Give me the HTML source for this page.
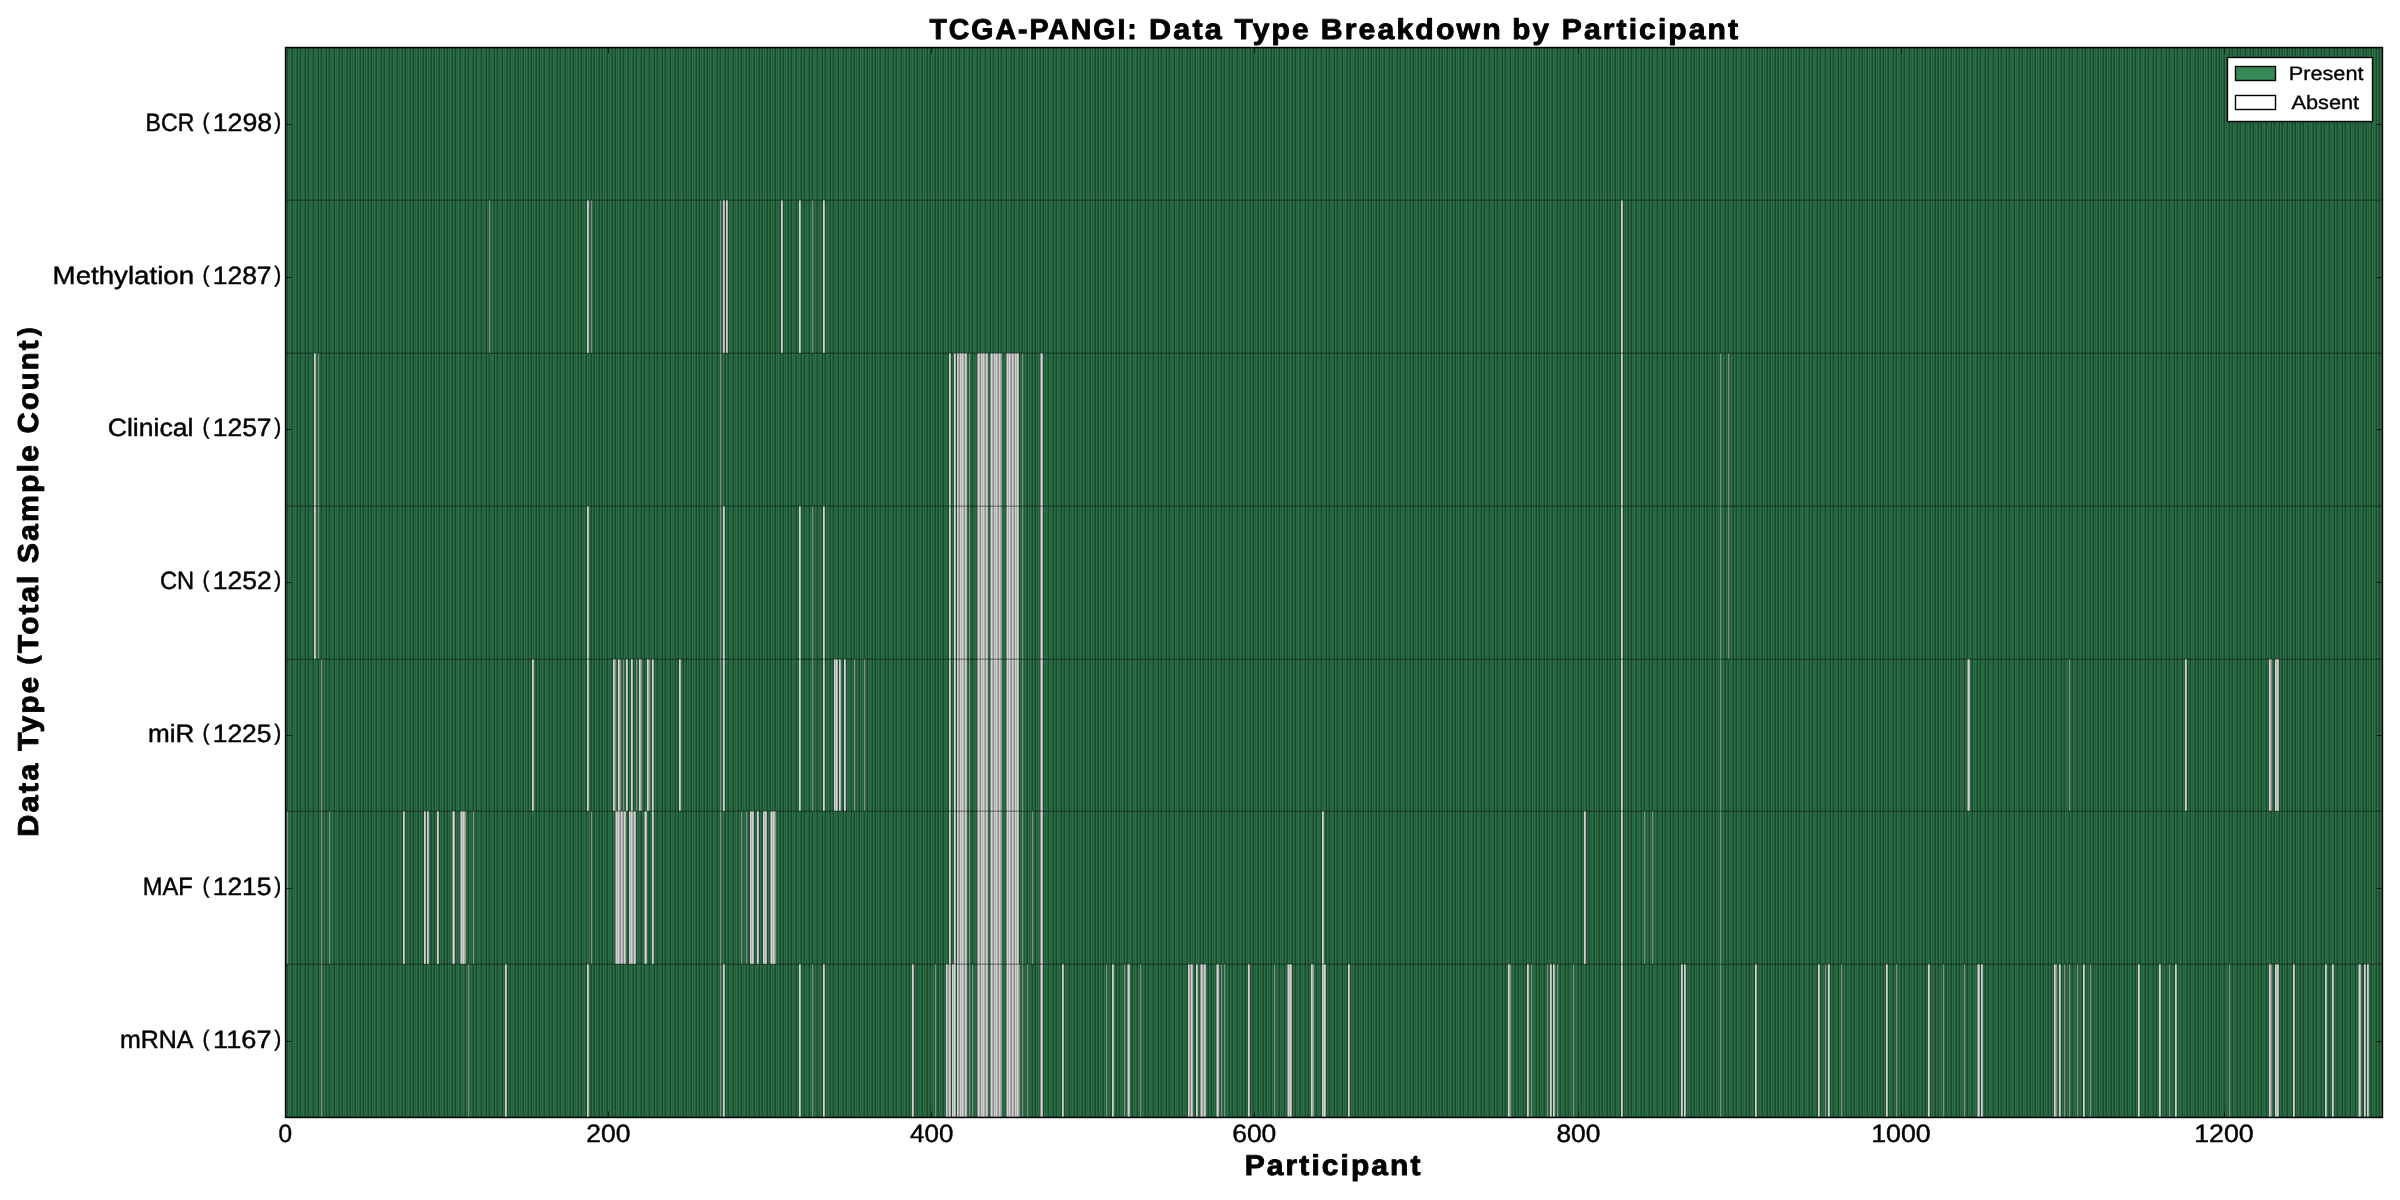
<!DOCTYPE html><html><head><meta charset="utf-8"><title>TCGA-PANGI</title><style>html,body{margin:0;padding:0;background:#fff;width:2400px;height:1200px;overflow:hidden}svg{display:block}text{font-family:"Liberation Sans",sans-serif;fill:#000;stroke:#000;stroke-linejoin:round;text-rendering:geometricPrecision}</style></head><body>
<svg width="2400" height="1200" viewBox="0 0 2400 1200">
<rect width="2400" height="1200" fill="#fff"/>
<g shape-rendering="crispEdges">
<rect x="286" y="48" width="2096" height="1069" fill="#2b7147"/>
<path d="M286.5 48v1069M289.5 48v1069M291.5 48v1069M294.5 48v1069M296.5 48v1069M299.5 48v1069M302.5 48v1069M304.5 48v1069M307.5 48v1069M310.5 48v1069M312.5 48v1069M315.5 48v1069M317.5 48v1069M320.5 48v1069M323.5 48v1069M325.5 48v1069M328.5 48v1069M331.5 48v1069M333.5 48v1069M336.5 48v1069M338.5 48v1069M341.5 48v1069M344.5 48v1069M346.5 48v1069M349.5 48v1069M352.5 48v1069M354.5 48v1069M357.5 48v1069M359.5 48v1069M362.5 48v1069M365.5 48v1069M367.5 48v1069M370.5 48v1069M373.5 48v1069M375.5 48v1069M378.5 48v1069M380.5 48v1069M383.5 48v1069M386.5 48v1069M388.5 48v1069M391.5 48v1069M394.5 48v1069M396.5 48v1069M399.5 48v1069M401.5 48v1069M404.5 48v1069M407.5 48v1069M409.5 48v1069M412.5 48v1069M415.5 48v1069M417.5 48v1069M420.5 48v1069M422.5 48v1069M425.5 48v1069M428.5 48v1069M430.5 48v1069M433.5 48v1069M436.5 48v1069M438.5 48v1069M441.5 48v1069M443.5 48v1069M446.5 48v1069M449.5 48v1069M451.5 48v1069M454.5 48v1069M457.5 48v1069M459.5 48v1069M462.5 48v1069M464.5 48v1069M467.5 48v1069M470.5 48v1069M472.5 48v1069M475.5 48v1069M478.5 48v1069M480.5 48v1069M483.5 48v1069M485.5 48v1069M488.5 48v1069M491.5 48v1069M493.5 48v1069M496.5 48v1069M499.5 48v1069M501.5 48v1069M504.5 48v1069M506.5 48v1069M509.5 48v1069M512.5 48v1069M514.5 48v1069M517.5 48v1069M520.5 48v1069M522.5 48v1069M525.5 48v1069M527.5 48v1069M530.5 48v1069M533.5 48v1069M535.5 48v1069M538.5 48v1069M541.5 48v1069M543.5 48v1069M546.5 48v1069M548.5 48v1069M551.5 48v1069M554.5 48v1069M556.5 48v1069M559.5 48v1069M562.5 48v1069M564.5 48v1069M567.5 48v1069M569.5 48v1069M572.5 48v1069M575.5 48v1069M577.5 48v1069M580.5 48v1069M583.5 48v1069M585.5 48v1069M588.5 48v1069M590.5 48v1069M593.5 48v1069M596.5 48v1069M598.5 48v1069M601.5 48v1069M604.5 48v1069M606.5 48v1069M609.5 48v1069M611.5 48v1069M614.5 48v1069M617.5 48v1069M619.5 48v1069M622.5 48v1069M625.5 48v1069M627.5 48v1069M630.5 48v1069M632.5 48v1069M635.5 48v1069M638.5 48v1069M640.5 48v1069M643.5 48v1069M646.5 48v1069M648.5 48v1069M651.5 48v1069M653.5 48v1069M656.5 48v1069M659.5 48v1069M661.5 48v1069M664.5 48v1069M667.5 48v1069M669.5 48v1069M672.5 48v1069M674.5 48v1069M677.5 48v1069M680.5 48v1069M682.5 48v1069M685.5 48v1069M688.5 48v1069M690.5 48v1069M693.5 48v1069M695.5 48v1069M698.5 48v1069M701.5 48v1069M703.5 48v1069M706.5 48v1069M709.5 48v1069M711.5 48v1069M714.5 48v1069M716.5 48v1069M719.5 48v1069M722.5 48v1069M724.5 48v1069M727.5 48v1069M730.5 48v1069M732.5 48v1069M735.5 48v1069M737.5 48v1069M740.5 48v1069M743.5 48v1069M745.5 48v1069M748.5 48v1069M751.5 48v1069M753.5 48v1069M756.5 48v1069M758.5 48v1069M761.5 48v1069M764.5 48v1069M766.5 48v1069M769.5 48v1069M772.5 48v1069M774.5 48v1069M777.5 48v1069M779.5 48v1069M782.5 48v1069M785.5 48v1069M787.5 48v1069M790.5 48v1069M793.5 48v1069M795.5 48v1069M798.5 48v1069M800.5 48v1069M803.5 48v1069M806.5 48v1069M808.5 48v1069M811.5 48v1069M814.5 48v1069M816.5 48v1069M819.5 48v1069M821.5 48v1069M824.5 48v1069M827.5 48v1069M829.5 48v1069M832.5 48v1069M835.5 48v1069M837.5 48v1069M840.5 48v1069M842.5 48v1069M845.5 48v1069M848.5 48v1069M850.5 48v1069M853.5 48v1069M856.5 48v1069M858.5 48v1069M861.5 48v1069M863.5 48v1069M866.5 48v1069M869.5 48v1069M871.5 48v1069M874.5 48v1069M877.5 48v1069M879.5 48v1069M882.5 48v1069M884.5 48v1069M887.5 48v1069M890.5 48v1069M892.5 48v1069M895.5 48v1069M898.5 48v1069M900.5 48v1069M903.5 48v1069M905.5 48v1069M908.5 48v1069M911.5 48v1069M913.5 48v1069M916.5 48v1069M919.5 48v1069M921.5 48v1069M924.5 48v1069M926.5 48v1069M929.5 48v1069M932.5 48v1069M934.5 48v1069M937.5 48v1069M940.5 48v1069M942.5 48v1069M945.5 48v1069M947.5 48v1069M950.5 48v1069M953.5 48v1069M955.5 48v1069M958.5 48v1069M961.5 48v1069M963.5 48v1069M966.5 48v1069M968.5 48v1069M971.5 48v1069M974.5 48v1069M976.5 48v1069M979.5 48v1069M982.5 48v1069M984.5 48v1069M987.5 48v1069M989.5 48v1069M992.5 48v1069M995.5 48v1069M997.5 48v1069M1000.5 48v1069M1003.5 48v1069M1005.5 48v1069M1008.5 48v1069M1010.5 48v1069M1013.5 48v1069M1016.5 48v1069M1018.5 48v1069M1021.5 48v1069M1024.5 48v1069M1026.5 48v1069M1029.5 48v1069M1031.5 48v1069M1034.5 48v1069M1037.5 48v1069M1039.5 48v1069M1042.5 48v1069M1045.5 48v1069M1047.5 48v1069M1050.5 48v1069M1052.5 48v1069M1055.5 48v1069M1058.5 48v1069M1060.5 48v1069M1063.5 48v1069M1066.5 48v1069M1068.5 48v1069M1071.5 48v1069M1073.5 48v1069M1076.5 48v1069M1079.5 48v1069M1081.5 48v1069M1084.5 48v1069M1087.5 48v1069M1089.5 48v1069M1092.5 48v1069M1094.5 48v1069M1097.5 48v1069M1100.5 48v1069M1102.5 48v1069M1105.5 48v1069M1108.5 48v1069M1110.5 48v1069M1113.5 48v1069M1115.5 48v1069M1118.5 48v1069M1121.5 48v1069M1123.5 48v1069M1126.5 48v1069M1129.5 48v1069M1131.5 48v1069M1134.5 48v1069M1136.5 48v1069M1139.5 48v1069M1142.5 48v1069M1144.5 48v1069M1147.5 48v1069M1150.5 48v1069M1152.5 48v1069M1155.5 48v1069M1157.5 48v1069M1160.5 48v1069M1163.5 48v1069M1165.5 48v1069M1168.5 48v1069M1171.5 48v1069M1173.5 48v1069M1176.5 48v1069M1178.5 48v1069M1181.5 48v1069M1184.5 48v1069M1186.5 48v1069M1189.5 48v1069M1192.5 48v1069M1194.5 48v1069M1197.5 48v1069M1199.5 48v1069M1202.5 48v1069M1205.5 48v1069M1207.5 48v1069M1210.5 48v1069M1213.5 48v1069M1215.5 48v1069M1218.5 48v1069M1220.5 48v1069M1223.5 48v1069M1226.5 48v1069M1228.5 48v1069M1231.5 48v1069M1234.5 48v1069M1236.5 48v1069M1239.5 48v1069M1241.5 48v1069M1244.5 48v1069M1247.5 48v1069M1249.5 48v1069M1252.5 48v1069M1255.5 48v1069M1257.5 48v1069M1260.5 48v1069M1262.5 48v1069M1265.5 48v1069M1268.5 48v1069M1270.5 48v1069M1273.5 48v1069M1276.5 48v1069M1278.5 48v1069M1281.5 48v1069M1283.5 48v1069M1286.5 48v1069M1289.5 48v1069M1291.5 48v1069M1294.5 48v1069M1297.5 48v1069M1299.5 48v1069M1302.5 48v1069M1304.5 48v1069M1307.5 48v1069M1310.5 48v1069M1312.5 48v1069M1315.5 48v1069M1318.5 48v1069M1320.5 48v1069M1323.5 48v1069M1325.5 48v1069M1328.5 48v1069M1331.5 48v1069M1333.5 48v1069M1336.5 48v1069M1339.5 48v1069M1341.5 48v1069M1344.5 48v1069M1346.5 48v1069M1349.5 48v1069M1352.5 48v1069M1354.5 48v1069M1357.5 48v1069M1360.5 48v1069M1362.5 48v1069M1365.5 48v1069M1367.5 48v1069M1370.5 48v1069M1373.5 48v1069M1375.5 48v1069M1378.5 48v1069M1381.5 48v1069M1383.5 48v1069M1386.5 48v1069M1388.5 48v1069M1391.5 48v1069M1394.5 48v1069M1396.5 48v1069M1399.5 48v1069M1402.5 48v1069M1404.5 48v1069M1407.5 48v1069M1409.5 48v1069M1412.5 48v1069M1415.5 48v1069M1417.5 48v1069M1420.5 48v1069M1423.5 48v1069M1425.5 48v1069M1428.5 48v1069M1430.5 48v1069M1433.5 48v1069M1436.5 48v1069M1438.5 48v1069M1441.5 48v1069M1444.5 48v1069M1446.5 48v1069M1449.5 48v1069M1451.5 48v1069M1454.5 48v1069M1457.5 48v1069M1459.5 48v1069M1462.5 48v1069M1465.5 48v1069M1467.5 48v1069M1470.5 48v1069M1472.5 48v1069M1475.5 48v1069M1478.5 48v1069M1480.5 48v1069M1483.5 48v1069M1486.5 48v1069M1488.5 48v1069M1491.5 48v1069M1493.5 48v1069M1496.5 48v1069M1499.5 48v1069M1501.5 48v1069M1504.5 48v1069M1507.5 48v1069M1509.5 48v1069M1512.5 48v1069M1514.5 48v1069M1517.5 48v1069M1520.5 48v1069M1522.5 48v1069M1525.5 48v1069M1528.5 48v1069M1530.5 48v1069M1533.5 48v1069M1535.5 48v1069M1538.5 48v1069M1541.5 48v1069M1543.5 48v1069M1546.5 48v1069M1549.5 48v1069M1551.5 48v1069M1554.5 48v1069M1556.5 48v1069M1559.5 48v1069M1562.5 48v1069M1564.5 48v1069M1567.5 48v1069M1570.5 48v1069M1572.5 48v1069M1575.5 48v1069M1577.5 48v1069M1580.5 48v1069M1583.5 48v1069M1585.5 48v1069M1588.5 48v1069M1591.5 48v1069M1593.5 48v1069M1596.5 48v1069M1598.5 48v1069M1601.5 48v1069M1604.5 48v1069M1606.5 48v1069M1609.5 48v1069M1612.5 48v1069M1614.5 48v1069M1617.5 48v1069M1619.5 48v1069M1622.5 48v1069M1625.5 48v1069M1627.5 48v1069M1630.5 48v1069M1633.5 48v1069M1635.5 48v1069M1638.5 48v1069M1640.5 48v1069M1643.5 48v1069M1646.5 48v1069M1648.5 48v1069M1651.5 48v1069M1654.5 48v1069M1656.5 48v1069M1659.5 48v1069M1661.5 48v1069M1664.5 48v1069M1667.5 48v1069M1669.5 48v1069M1672.5 48v1069M1675.5 48v1069M1677.5 48v1069M1680.5 48v1069M1682.5 48v1069M1685.5 48v1069M1688.5 48v1069M1690.5 48v1069M1693.5 48v1069M1696.5 48v1069M1698.5 48v1069M1701.5 48v1069M1703.5 48v1069M1706.5 48v1069M1709.5 48v1069M1711.5 48v1069M1714.5 48v1069M1717.5 48v1069M1719.5 48v1069M1722.5 48v1069M1724.5 48v1069M1727.5 48v1069M1730.5 48v1069M1732.5 48v1069M1735.5 48v1069M1738.5 48v1069M1740.5 48v1069M1743.5 48v1069M1745.5 48v1069M1748.5 48v1069M1751.5 48v1069M1753.5 48v1069M1756.5 48v1069M1759.5 48v1069M1761.5 48v1069M1764.5 48v1069M1766.5 48v1069M1769.5 48v1069M1772.5 48v1069M1774.5 48v1069M1777.5 48v1069M1780.5 48v1069M1782.5 48v1069M1785.5 48v1069M1787.5 48v1069M1790.5 48v1069M1793.5 48v1069M1795.5 48v1069M1798.5 48v1069M1801.5 48v1069M1803.5 48v1069M1806.5 48v1069M1808.5 48v1069M1811.5 48v1069M1814.5 48v1069M1816.5 48v1069M1819.5 48v1069M1822.5 48v1069M1824.5 48v1069M1827.5 48v1069M1829.5 48v1069M1832.5 48v1069M1835.5 48v1069M1837.5 48v1069M1840.5 48v1069M1843.5 48v1069M1845.5 48v1069M1848.5 48v1069M1850.5 48v1069M1853.5 48v1069M1856.5 48v1069M1858.5 48v1069M1861.5 48v1069M1864.5 48v1069M1866.5 48v1069M1869.5 48v1069M1871.5 48v1069M1874.5 48v1069M1877.5 48v1069M1879.5 48v1069M1882.5 48v1069M1885.5 48v1069M1887.5 48v1069M1890.5 48v1069M1892.5 48v1069M1895.5 48v1069M1898.5 48v1069M1900.5 48v1069M1903.5 48v1069M1906.5 48v1069M1908.5 48v1069M1911.5 48v1069M1913.5 48v1069M1916.5 48v1069M1919.5 48v1069M1921.5 48v1069M1924.5 48v1069M1927.5 48v1069M1929.5 48v1069M1932.5 48v1069M1934.5 48v1069M1937.5 48v1069M1940.5 48v1069M1942.5 48v1069M1945.5 48v1069M1948.5 48v1069M1950.5 48v1069M1953.5 48v1069M1955.5 48v1069M1958.5 48v1069M1961.5 48v1069M1963.5 48v1069M1966.5 48v1069M1969.5 48v1069M1971.5 48v1069M1974.5 48v1069M1976.5 48v1069M1979.5 48v1069M1982.5 48v1069M1984.5 48v1069M1987.5 48v1069M1990.5 48v1069M1992.5 48v1069M1995.5 48v1069M1997.5 48v1069M2000.5 48v1069M2003.5 48v1069M2005.5 48v1069M2008.5 48v1069M2011.5 48v1069M2013.5 48v1069M2016.5 48v1069M2018.5 48v1069M2021.5 48v1069M2024.5 48v1069M2026.5 48v1069M2029.5 48v1069M2032.5 48v1069M2034.5 48v1069M2037.5 48v1069M2039.5 48v1069M2042.5 48v1069M2045.5 48v1069M2047.5 48v1069M2050.5 48v1069M2053.5 48v1069M2055.5 48v1069M2058.5 48v1069M2060.5 48v1069M2063.5 48v1069M2066.5 48v1069M2068.5 48v1069M2071.5 48v1069M2074.5 48v1069M2076.5 48v1069M2079.5 48v1069M2081.5 48v1069M2084.5 48v1069M2087.5 48v1069M2089.5 48v1069M2092.5 48v1069M2095.5 48v1069M2097.5 48v1069M2100.5 48v1069M2102.5 48v1069M2105.5 48v1069M2108.5 48v1069M2110.5 48v1069M2113.5 48v1069M2116.5 48v1069M2118.5 48v1069M2121.5 48v1069M2123.5 48v1069M2126.5 48v1069M2129.5 48v1069M2131.5 48v1069M2134.5 48v1069M2137.5 48v1069M2139.5 48v1069M2142.5 48v1069M2144.5 48v1069M2147.5 48v1069M2150.5 48v1069M2152.5 48v1069M2155.5 48v1069M2158.5 48v1069M2160.5 48v1069M2163.5 48v1069M2165.5 48v1069M2168.5 48v1069M2171.5 48v1069M2173.5 48v1069M2176.5 48v1069M2179.5 48v1069M2181.5 48v1069M2184.5 48v1069M2186.5 48v1069M2189.5 48v1069M2192.5 48v1069M2194.5 48v1069M2197.5 48v1069M2200.5 48v1069M2202.5 48v1069M2205.5 48v1069M2207.5 48v1069M2210.5 48v1069M2213.5 48v1069M2215.5 48v1069M2218.5 48v1069M2221.5 48v1069M2223.5 48v1069M2226.5 48v1069M2228.5 48v1069M2231.5 48v1069M2234.5 48v1069M2236.5 48v1069M2239.5 48v1069M2242.5 48v1069M2244.5 48v1069M2247.5 48v1069M2249.5 48v1069M2252.5 48v1069M2255.5 48v1069M2257.5 48v1069M2260.5 48v1069M2263.5 48v1069M2265.5 48v1069M2268.5 48v1069M2270.5 48v1069M2273.5 48v1069M2276.5 48v1069M2278.5 48v1069M2281.5 48v1069M2284.5 48v1069M2286.5 48v1069M2289.5 48v1069M2291.5 48v1069M2294.5 48v1069M2297.5 48v1069M2299.5 48v1069M2302.5 48v1069M2305.5 48v1069M2307.5 48v1069M2310.5 48v1069M2312.5 48v1069M2315.5 48v1069M2318.5 48v1069M2320.5 48v1069M2323.5 48v1069M2326.5 48v1069M2328.5 48v1069M2331.5 48v1069M2333.5 48v1069M2336.5 48v1069M2339.5 48v1069M2341.5 48v1069M2344.5 48v1069M2347.5 48v1069M2349.5 48v1069M2352.5 48v1069M2354.5 48v1069M2357.5 48v1069M2360.5 48v1069M2362.5 48v1069M2365.5 48v1069M2368.5 48v1069M2370.5 48v1069M2373.5 48v1069M2375.5 48v1069M2378.5 48v1069M2381.5 48v1069" stroke="#245e3b" stroke-width="1" fill="none"/>
<path d="M287.5 48v1069M292.5 48v1069M297.5 48v1069M300.5 48v1069M305.5 48v1069M308.5 48v1069M313.5 48v1069M318.5 48v1069M321.5 48v1069M326.5 48v1069M329.5 48v1069M334.5 48v1069M339.5 48v1069M342.5 48v1069M347.5 48v1069M350.5 48v1069M355.5 48v1069M360.5 48v1069M363.5 48v1069M368.5 48v1069M371.5 48v1069M376.5 48v1069M381.5 48v1069M384.5 48v1069M389.5 48v1069M392.5 48v1069M397.5 48v1069M402.5 48v1069M405.5 48v1069M410.5 48v1069M413.5 48v1069M418.5 48v1069M423.5 48v1069M426.5 48v1069M431.5 48v1069M434.5 48v1069M439.5 48v1069M444.5 48v1069M447.5 48v1069M452.5 48v1069M455.5 48v1069M460.5 48v1069M465.5 48v1069M468.5 48v1069M473.5 48v1069M476.5 48v1069M481.5 48v1069M486.5 48v1069M489.5 48v1069M494.5 48v1069M497.5 48v1069M502.5 48v1069M507.5 48v1069M510.5 48v1069M515.5 48v1069M518.5 48v1069M523.5 48v1069M528.5 48v1069M531.5 48v1069M536.5 48v1069M539.5 48v1069M544.5 48v1069M549.5 48v1069M552.5 48v1069M557.5 48v1069M560.5 48v1069M565.5 48v1069M570.5 48v1069M573.5 48v1069M578.5 48v1069M581.5 48v1069M586.5 48v1069M591.5 48v1069M594.5 48v1069M599.5 48v1069M602.5 48v1069M607.5 48v1069M612.5 48v1069M615.5 48v1069M620.5 48v1069M623.5 48v1069M628.5 48v1069M633.5 48v1069M636.5 48v1069M641.5 48v1069M644.5 48v1069M649.5 48v1069M654.5 48v1069M657.5 48v1069M662.5 48v1069M665.5 48v1069M670.5 48v1069M675.5 48v1069M678.5 48v1069M683.5 48v1069M686.5 48v1069M691.5 48v1069M696.5 48v1069M699.5 48v1069M704.5 48v1069M707.5 48v1069M712.5 48v1069M717.5 48v1069M720.5 48v1069M725.5 48v1069M728.5 48v1069M733.5 48v1069M738.5 48v1069M741.5 48v1069M746.5 48v1069M749.5 48v1069M754.5 48v1069M759.5 48v1069M762.5 48v1069M767.5 48v1069M770.5 48v1069M775.5 48v1069M780.5 48v1069M783.5 48v1069M788.5 48v1069M791.5 48v1069M796.5 48v1069M801.5 48v1069M804.5 48v1069M809.5 48v1069M812.5 48v1069M817.5 48v1069M822.5 48v1069M825.5 48v1069M830.5 48v1069M833.5 48v1069M838.5 48v1069M843.5 48v1069M846.5 48v1069M851.5 48v1069M854.5 48v1069M859.5 48v1069M864.5 48v1069M867.5 48v1069M872.5 48v1069M875.5 48v1069M880.5 48v1069M885.5 48v1069M888.5 48v1069M893.5 48v1069M896.5 48v1069M901.5 48v1069M906.5 48v1069M909.5 48v1069M914.5 48v1069M917.5 48v1069M922.5 48v1069M927.5 48v1069M930.5 48v1069M935.5 48v1069M938.5 48v1069M943.5 48v1069M948.5 48v1069M951.5 48v1069M956.5 48v1069M959.5 48v1069M964.5 48v1069M969.5 48v1069M972.5 48v1069M977.5 48v1069M980.5 48v1069M985.5 48v1069M990.5 48v1069M993.5 48v1069M998.5 48v1069M1001.5 48v1069M1006.5 48v1069M1011.5 48v1069M1014.5 48v1069M1019.5 48v1069M1022.5 48v1069M1027.5 48v1069M1032.5 48v1069M1035.5 48v1069M1040.5 48v1069M1043.5 48v1069M1048.5 48v1069M1053.5 48v1069M1056.5 48v1069M1061.5 48v1069M1064.5 48v1069M1069.5 48v1069M1074.5 48v1069M1077.5 48v1069M1082.5 48v1069M1085.5 48v1069M1090.5 48v1069M1095.5 48v1069M1098.5 48v1069M1103.5 48v1069M1106.5 48v1069M1111.5 48v1069M1116.5 48v1069M1119.5 48v1069M1124.5 48v1069M1127.5 48v1069M1132.5 48v1069M1137.5 48v1069M1140.5 48v1069M1145.5 48v1069M1148.5 48v1069M1153.5 48v1069M1158.5 48v1069M1161.5 48v1069M1166.5 48v1069M1169.5 48v1069M1174.5 48v1069M1179.5 48v1069M1182.5 48v1069M1187.5 48v1069M1190.5 48v1069M1195.5 48v1069M1200.5 48v1069M1203.5 48v1069M1208.5 48v1069M1211.5 48v1069M1216.5 48v1069M1221.5 48v1069M1224.5 48v1069M1229.5 48v1069M1232.5 48v1069M1237.5 48v1069M1242.5 48v1069M1245.5 48v1069M1250.5 48v1069M1253.5 48v1069M1258.5 48v1069M1263.5 48v1069M1266.5 48v1069M1271.5 48v1069M1274.5 48v1069M1279.5 48v1069M1284.5 48v1069M1287.5 48v1069M1292.5 48v1069M1295.5 48v1069M1300.5 48v1069M1305.5 48v1069M1308.5 48v1069M1313.5 48v1069M1316.5 48v1069M1321.5 48v1069M1326.5 48v1069M1329.5 48v1069M1334.5 48v1069M1337.5 48v1069M1342.5 48v1069M1347.5 48v1069M1350.5 48v1069M1355.5 48v1069M1358.5 48v1069M1363.5 48v1069M1368.5 48v1069M1371.5 48v1069M1376.5 48v1069M1379.5 48v1069M1384.5 48v1069M1389.5 48v1069M1392.5 48v1069M1397.5 48v1069M1400.5 48v1069M1405.5 48v1069M1410.5 48v1069M1413.5 48v1069M1418.5 48v1069M1421.5 48v1069M1426.5 48v1069M1431.5 48v1069M1434.5 48v1069M1439.5 48v1069M1442.5 48v1069M1447.5 48v1069M1452.5 48v1069M1455.5 48v1069M1460.5 48v1069M1463.5 48v1069M1468.5 48v1069M1473.5 48v1069M1476.5 48v1069M1481.5 48v1069M1484.5 48v1069M1489.5 48v1069M1494.5 48v1069M1497.5 48v1069M1502.5 48v1069M1505.5 48v1069M1510.5 48v1069M1515.5 48v1069M1518.5 48v1069M1523.5 48v1069M1526.5 48v1069M1531.5 48v1069M1536.5 48v1069M1539.5 48v1069M1544.5 48v1069M1547.5 48v1069M1552.5 48v1069M1557.5 48v1069M1560.5 48v1069M1565.5 48v1069M1568.5 48v1069M1573.5 48v1069M1578.5 48v1069M1581.5 48v1069M1586.5 48v1069M1589.5 48v1069M1594.5 48v1069M1599.5 48v1069M1602.5 48v1069M1607.5 48v1069M1610.5 48v1069M1615.5 48v1069M1620.5 48v1069M1623.5 48v1069M1628.5 48v1069M1631.5 48v1069M1636.5 48v1069M1641.5 48v1069M1644.5 48v1069M1649.5 48v1069M1652.5 48v1069M1657.5 48v1069M1662.5 48v1069M1665.5 48v1069M1670.5 48v1069M1673.5 48v1069M1678.5 48v1069M1683.5 48v1069M1686.5 48v1069M1691.5 48v1069M1694.5 48v1069M1699.5 48v1069M1704.5 48v1069M1707.5 48v1069M1712.5 48v1069M1715.5 48v1069M1720.5 48v1069M1725.5 48v1069M1728.5 48v1069M1733.5 48v1069M1736.5 48v1069M1741.5 48v1069M1746.5 48v1069M1749.5 48v1069M1754.5 48v1069M1757.5 48v1069M1762.5 48v1069M1767.5 48v1069M1770.5 48v1069M1775.5 48v1069M1778.5 48v1069M1783.5 48v1069M1788.5 48v1069M1791.5 48v1069M1796.5 48v1069M1799.5 48v1069M1804.5 48v1069M1809.5 48v1069M1812.5 48v1069M1817.5 48v1069M1820.5 48v1069M1825.5 48v1069M1830.5 48v1069M1833.5 48v1069M1838.5 48v1069M1841.5 48v1069M1846.5 48v1069M1851.5 48v1069M1854.5 48v1069M1859.5 48v1069M1862.5 48v1069M1867.5 48v1069M1872.5 48v1069M1875.5 48v1069M1880.5 48v1069M1883.5 48v1069M1888.5 48v1069M1893.5 48v1069M1896.5 48v1069M1901.5 48v1069M1904.5 48v1069M1909.5 48v1069M1914.5 48v1069M1917.5 48v1069M1922.5 48v1069M1925.5 48v1069M1930.5 48v1069M1935.5 48v1069M1938.5 48v1069M1943.5 48v1069M1946.5 48v1069M1951.5 48v1069M1956.5 48v1069M1959.5 48v1069M1964.5 48v1069M1967.5 48v1069M1972.5 48v1069M1977.5 48v1069M1980.5 48v1069M1985.5 48v1069M1988.5 48v1069M1993.5 48v1069M1998.5 48v1069M2001.5 48v1069M2006.5 48v1069M2009.5 48v1069M2014.5 48v1069M2019.5 48v1069M2022.5 48v1069M2027.5 48v1069M2030.5 48v1069M2035.5 48v1069M2040.5 48v1069M2043.5 48v1069M2048.5 48v1069M2051.5 48v1069M2056.5 48v1069M2061.5 48v1069M2064.5 48v1069M2069.5 48v1069M2072.5 48v1069M2077.5 48v1069M2082.5 48v1069M2085.5 48v1069M2090.5 48v1069M2093.5 48v1069M2098.5 48v1069M2103.5 48v1069M2106.5 48v1069M2111.5 48v1069M2114.5 48v1069M2119.5 48v1069M2124.5 48v1069M2127.5 48v1069M2132.5 48v1069M2135.5 48v1069M2140.5 48v1069M2145.5 48v1069M2148.5 48v1069M2153.5 48v1069M2156.5 48v1069M2161.5 48v1069M2166.5 48v1069M2169.5 48v1069M2174.5 48v1069M2177.5 48v1069M2182.5 48v1069M2187.5 48v1069M2190.5 48v1069M2195.5 48v1069M2198.5 48v1069M2203.5 48v1069M2208.5 48v1069M2211.5 48v1069M2216.5 48v1069M2219.5 48v1069M2224.5 48v1069M2229.5 48v1069M2232.5 48v1069M2237.5 48v1069M2240.5 48v1069M2245.5 48v1069M2250.5 48v1069M2253.5 48v1069M2258.5 48v1069M2261.5 48v1069M2266.5 48v1069M2271.5 48v1069M2274.5 48v1069M2279.5 48v1069M2282.5 48v1069M2287.5 48v1069M2292.5 48v1069M2295.5 48v1069M2300.5 48v1069M2303.5 48v1069M2308.5 48v1069M2313.5 48v1069M2316.5 48v1069M2321.5 48v1069M2324.5 48v1069M2329.5 48v1069M2334.5 48v1069M2337.5 48v1069M2342.5 48v1069M2345.5 48v1069M2350.5 48v1069M2355.5 48v1069M2358.5 48v1069M2363.5 48v1069M2366.5 48v1069M2371.5 48v1069M2376.5 48v1069M2379.5 48v1069" stroke="#1c4a2e" stroke-width="1" fill="none"/>
<path d="M587 200v153h1v-153zM723 200v153h1v-153zM726 200v153h1v-153zM781 200v153h1v-153zM799 200v153h1v-153zM823 200v153h1v-153zM1621 200v153h1v-153zM314 353v153h1v-153zM949 353v153h1v-153zM954 353v153h1v-153zM957 353v153h1v-153zM960 353v153h1v-153zM962 353v153h1v-153zM965 353v153h1v-153zM978 353v153h1v-153zM981 353v153h1v-153zM983 353v153h1v-153zM986 353v153h1v-153zM991 353v153h1v-153zM994 353v153h1v-153zM996 353v153h1v-153zM999 353v153h1v-153zM1007 353v153h1v-153zM1009 353v153h1v-153zM1012 353v153h1v-153zM1015 353v153h1v-153zM1017 353v153h1v-153zM1041 353v153h1v-153zM1621 353v153h1v-153zM314 506v153h1v-153zM587 506v153h1v-153zM723 506v153h1v-153zM799 506v153h1v-153zM823 506v153h1v-153zM949 506v153h1v-153zM954 506v153h1v-153zM957 506v153h1v-153zM960 506v153h1v-153zM962 506v153h1v-153zM965 506v153h1v-153zM978 506v153h1v-153zM981 506v153h1v-153zM983 506v153h1v-153zM986 506v153h1v-153zM991 506v153h1v-153zM994 506v153h1v-153zM996 506v153h1v-153zM999 506v153h1v-153zM1007 506v153h1v-153zM1009 506v153h1v-153zM1012 506v153h1v-153zM1015 506v153h1v-153zM1017 506v153h1v-153zM1041 506v153h1v-153zM1621 506v153h1v-153zM532 659v152h1v-152zM587 659v152h1v-152zM613 659v152h1v-152zM618 659v152h1v-152zM626 659v152h1v-152zM631 659v152h1v-152zM639 659v152h1v-152zM647 659v152h1v-152zM652 659v152h1v-152zM679 659v152h1v-152zM723 659v152h1v-152zM799 659v152h1v-152zM823 659v152h1v-152zM834 659v152h1v-152zM836 659v152h1v-152zM839 659v152h1v-152zM844 659v152h1v-152zM949 659v152h1v-152zM954 659v152h1v-152zM957 659v152h1v-152zM960 659v152h1v-152zM962 659v152h1v-152zM965 659v152h1v-152zM978 659v152h1v-152zM981 659v152h1v-152zM983 659v152h1v-152zM986 659v152h1v-152zM991 659v152h1v-152zM994 659v152h1v-152zM996 659v152h1v-152zM999 659v152h1v-152zM1007 659v152h1v-152zM1009 659v152h1v-152zM1012 659v152h1v-152zM1015 659v152h1v-152zM1017 659v152h1v-152zM1041 659v152h1v-152zM1621 659v152h1v-152zM1968 659v152h1v-152zM2185 659v152h1v-152zM2269 659v152h1v-152zM2275 659v152h1v-152zM2277 659v152h1v-152zM403 811v153h1v-153zM424 811v153h1v-153zM427 811v153h1v-153zM437 811v153h1v-153zM453 811v153h1v-153zM461 811v153h1v-153zM463 811v153h1v-153zM616 811v153h1v-153zM618 811v153h1v-153zM621 811v153h1v-153zM624 811v153h1v-153zM629 811v153h1v-153zM631 811v153h1v-153zM634 811v153h1v-153zM645 811v153h1v-153zM652 811v153h1v-153zM750 811v153h1v-153zM752 811v153h1v-153zM757 811v153h1v-153zM763 811v153h1v-153zM765 811v153h1v-153zM771 811v153h1v-153zM773 811v153h1v-153zM949 811v153h1v-153zM954 811v153h1v-153zM957 811v153h1v-153zM960 811v153h1v-153zM962 811v153h1v-153zM965 811v153h1v-153zM978 811v153h1v-153zM981 811v153h1v-153zM983 811v153h1v-153zM986 811v153h1v-153zM991 811v153h1v-153zM994 811v153h1v-153zM996 811v153h1v-153zM999 811v153h1v-153zM1007 811v153h1v-153zM1009 811v153h1v-153zM1012 811v153h1v-153zM1015 811v153h1v-153zM1017 811v153h1v-153zM1041 811v153h1v-153zM1322 811v153h1v-153zM1584 811v153h1v-153zM1621 811v153h1v-153zM505 964v153h1v-153zM587 964v153h1v-153zM723 964v153h1v-153zM799 964v153h1v-153zM823 964v153h1v-153zM912 964v153h1v-153zM946 964v153h1v-153zM949 964v153h1v-153zM952 964v153h1v-153zM954 964v153h1v-153zM957 964v153h1v-153zM960 964v153h1v-153zM962 964v153h1v-153zM965 964v153h1v-153zM978 964v153h1v-153zM981 964v153h1v-153zM983 964v153h1v-153zM986 964v153h1v-153zM991 964v153h1v-153zM994 964v153h1v-153zM996 964v153h1v-153zM999 964v153h1v-153zM1007 964v153h1v-153zM1009 964v153h1v-153zM1012 964v153h1v-153zM1015 964v153h1v-153zM1017 964v153h1v-153zM1041 964v153h1v-153zM1062 964v153h1v-153zM1112 964v153h1v-153zM1128 964v153h1v-153zM1188 964v153h1v-153zM1191 964v153h1v-153zM1196 964v153h1v-153zM1201 964v153h1v-153zM1204 964v153h1v-153zM1217 964v153h1v-153zM1248 964v153h1v-153zM1288 964v153h1v-153zM1290 964v153h1v-153zM1311 964v153h1v-153zM1322 964v153h1v-153zM1324 964v153h1v-153zM1348 964v153h1v-153zM1508 964v153h1v-153zM1527 964v153h1v-153zM1550 964v153h1v-153zM1553 964v153h1v-153zM1621 964v153h1v-153zM1681 964v153h1v-153zM1684 964v153h1v-153zM1755 964v153h1v-153zM1818 964v153h1v-153zM1828 964v153h1v-153zM1886 964v153h1v-153zM1928 964v153h1v-153zM1978 964v153h1v-153zM1981 964v153h1v-153zM2054 964v153h1v-153zM2059 964v153h1v-153zM2083 964v153h1v-153zM2138 964v153h1v-153zM2159 964v153h1v-153zM2175 964v153h1v-153zM2269 964v153h1v-153zM2275 964v153h1v-153zM2277 964v153h1v-153zM2293 964v153h1v-153zM2325 964v153h1v-153zM2332 964v153h1v-153zM2359 964v153h1v-153zM2364 964v153h1v-153zM2367 964v153h1v-153z" fill="#d3d3d3"/>
<path d="M588 200v153h1v-153zM724 200v153h1v-153zM727 200v153h1v-153zM782 200v153h1v-153zM800 200v153h1v-153zM824 200v153h1v-153zM1622 200v153h1v-153zM315 353v153h1v-153zM950 353v153h1v-153zM955 353v153h1v-153zM958 353v153h1v-153zM961 353v153h1v-153zM963 353v153h1v-153zM966 353v153h1v-153zM979 353v153h1v-153zM982 353v153h1v-153zM984 353v153h1v-153zM987 353v153h1v-153zM992 353v153h1v-153zM995 353v153h1v-153zM997 353v153h1v-153zM1000 353v153h1v-153zM1008 353v153h1v-153zM1010 353v153h1v-153zM1013 353v153h1v-153zM1016 353v153h1v-153zM1018 353v153h1v-153zM1042 353v153h1v-153zM1622 353v153h1v-153zM315 506v153h1v-153zM588 506v153h1v-153zM724 506v153h1v-153zM800 506v153h1v-153zM824 506v153h1v-153zM950 506v153h1v-153zM955 506v153h1v-153zM958 506v153h1v-153zM961 506v153h1v-153zM963 506v153h1v-153zM966 506v153h1v-153zM979 506v153h1v-153zM982 506v153h1v-153zM984 506v153h1v-153zM987 506v153h1v-153zM992 506v153h1v-153zM995 506v153h1v-153zM997 506v153h1v-153zM1000 506v153h1v-153zM1008 506v153h1v-153zM1010 506v153h1v-153zM1013 506v153h1v-153zM1016 506v153h1v-153zM1018 506v153h1v-153zM1042 506v153h1v-153zM1622 506v153h1v-153zM533 659v152h1v-152zM588 659v152h1v-152zM614 659v152h1v-152zM619 659v152h1v-152zM627 659v152h1v-152zM632 659v152h1v-152zM640 659v152h1v-152zM648 659v152h1v-152zM653 659v152h1v-152zM680 659v152h1v-152zM724 659v152h1v-152zM800 659v152h1v-152zM824 659v152h1v-152zM835 659v152h1v-152zM837 659v152h1v-152zM840 659v152h1v-152zM845 659v152h1v-152zM950 659v152h1v-152zM955 659v152h1v-152zM958 659v152h1v-152zM961 659v152h1v-152zM963 659v152h1v-152zM966 659v152h1v-152zM979 659v152h1v-152zM982 659v152h1v-152zM984 659v152h1v-152zM987 659v152h1v-152zM992 659v152h1v-152zM995 659v152h1v-152zM997 659v152h1v-152zM1000 659v152h1v-152zM1008 659v152h1v-152zM1010 659v152h1v-152zM1013 659v152h1v-152zM1016 659v152h1v-152zM1018 659v152h1v-152zM1042 659v152h1v-152zM1622 659v152h1v-152zM1969 659v152h1v-152zM2186 659v152h1v-152zM2270 659v152h1v-152zM2276 659v152h1v-152zM2278 659v152h1v-152zM404 811v153h1v-153zM425 811v153h1v-153zM428 811v153h1v-153zM438 811v153h1v-153zM454 811v153h1v-153zM462 811v153h1v-153zM464 811v153h1v-153zM617 811v153h1v-153zM619 811v153h1v-153zM622 811v153h1v-153zM625 811v153h1v-153zM630 811v153h1v-153zM632 811v153h1v-153zM635 811v153h1v-153zM646 811v153h1v-153zM653 811v153h1v-153zM751 811v153h1v-153zM753 811v153h1v-153zM758 811v153h1v-153zM764 811v153h1v-153zM766 811v153h1v-153zM772 811v153h1v-153zM774 811v153h1v-153zM950 811v153h1v-153zM955 811v153h1v-153zM958 811v153h1v-153zM961 811v153h1v-153zM963 811v153h1v-153zM966 811v153h1v-153zM979 811v153h1v-153zM982 811v153h1v-153zM984 811v153h1v-153zM987 811v153h1v-153zM992 811v153h1v-153zM995 811v153h1v-153zM997 811v153h1v-153zM1000 811v153h1v-153zM1008 811v153h1v-153zM1010 811v153h1v-153zM1013 811v153h1v-153zM1016 811v153h1v-153zM1018 811v153h1v-153zM1042 811v153h1v-153zM1323 811v153h1v-153zM1585 811v153h1v-153zM1622 811v153h1v-153zM506 964v153h1v-153zM588 964v153h1v-153zM724 964v153h1v-153zM800 964v153h1v-153zM824 964v153h1v-153zM913 964v153h1v-153zM947 964v153h1v-153zM950 964v153h1v-153zM953 964v153h1v-153zM955 964v153h1v-153zM958 964v153h1v-153zM961 964v153h1v-153zM963 964v153h1v-153zM966 964v153h1v-153zM979 964v153h1v-153zM982 964v153h1v-153zM984 964v153h1v-153zM987 964v153h1v-153zM992 964v153h1v-153zM995 964v153h1v-153zM997 964v153h1v-153zM1000 964v153h1v-153zM1008 964v153h1v-153zM1010 964v153h1v-153zM1013 964v153h1v-153zM1016 964v153h1v-153zM1018 964v153h1v-153zM1042 964v153h1v-153zM1063 964v153h1v-153zM1113 964v153h1v-153zM1129 964v153h1v-153zM1189 964v153h1v-153zM1192 964v153h1v-153zM1197 964v153h1v-153zM1202 964v153h1v-153zM1205 964v153h1v-153zM1218 964v153h1v-153zM1249 964v153h1v-153zM1289 964v153h1v-153zM1291 964v153h1v-153zM1312 964v153h1v-153zM1323 964v153h1v-153zM1325 964v153h1v-153zM1349 964v153h1v-153zM1509 964v153h1v-153zM1528 964v153h1v-153zM1551 964v153h1v-153zM1554 964v153h1v-153zM1622 964v153h1v-153zM1682 964v153h1v-153zM1685 964v153h1v-153zM1756 964v153h1v-153zM1819 964v153h1v-153zM1829 964v153h1v-153zM1887 964v153h1v-153zM1929 964v153h1v-153zM1979 964v153h1v-153zM1982 964v153h1v-153zM2055 964v153h1v-153zM2060 964v153h1v-153zM2084 964v153h1v-153zM2139 964v153h1v-153zM2160 964v153h1v-153zM2176 964v153h1v-153zM2270 964v153h1v-153zM2276 964v153h1v-153zM2278 964v153h1v-153zM2294 964v153h1v-153zM2326 964v153h1v-153zM2333 964v153h1v-153zM2360 964v153h1v-153zM2365 964v153h1v-153zM2368 964v153h1v-153z" fill="#aeaeae"/>
<path d="M489 200v153h1v-153zM591 200v153h1v-153zM720 200v153h1v-153zM812 200v153h1v-153zM318 353v153h1v-153zM720 353v153h1v-153zM959 353v153h1v-153zM964 353v153h1v-153zM969 353v153h1v-153zM977 353v153h1v-153zM980 353v153h1v-153zM985 353v153h1v-153zM990 353v153h1v-153zM993 353v153h1v-153zM998 353v153h1v-153zM1001 353v153h1v-153zM1006 353v153h1v-153zM1011 353v153h1v-153zM1014 353v153h1v-153zM1022 353v153h1v-153zM1040 353v153h1v-153zM1720 353v153h1v-153zM1728 353v153h1v-153zM318 506v153h1v-153zM720 506v153h1v-153zM812 506v153h1v-153zM959 506v153h1v-153zM964 506v153h1v-153zM969 506v153h1v-153zM977 506v153h1v-153zM980 506v153h1v-153zM985 506v153h1v-153zM990 506v153h1v-153zM993 506v153h1v-153zM998 506v153h1v-153zM1001 506v153h1v-153zM1006 506v153h1v-153zM1011 506v153h1v-153zM1014 506v153h1v-153zM1022 506v153h1v-153zM1040 506v153h1v-153zM1720 506v153h1v-153zM1728 506v153h1v-153zM321 659v152h1v-152zM615 659v152h1v-152zM620 659v152h1v-152zM623 659v152h1v-152zM636 659v152h1v-152zM641 659v152h1v-152zM649 659v152h1v-152zM720 659v152h1v-152zM812 659v152h1v-152zM854 659v152h1v-152zM864 659v152h1v-152zM959 659v152h1v-152zM964 659v152h1v-152zM969 659v152h1v-152zM977 659v152h1v-152zM980 659v152h1v-152zM985 659v152h1v-152zM990 659v152h1v-152zM993 659v152h1v-152zM998 659v152h1v-152zM1001 659v152h1v-152zM1006 659v152h1v-152zM1011 659v152h1v-152zM1014 659v152h1v-152zM1022 659v152h1v-152zM1040 659v152h1v-152zM1720 659v152h1v-152zM1967 659v152h1v-152zM2069 659v152h1v-152zM2271 659v152h1v-152zM287 811v153h1v-153zM321 811v153h1v-153zM329 811v153h1v-153zM452 811v153h1v-153zM460 811v153h1v-153zM465 811v153h1v-153zM473 811v153h1v-153zM591 811v153h1v-153zM615 811v153h1v-153zM620 811v153h1v-153zM623 811v153h1v-153zM633 811v153h1v-153zM644 811v153h1v-153zM720 811v153h1v-153zM741 811v153h1v-153zM746 811v153h1v-153zM770 811v153h1v-153zM775 811v153h1v-153zM959 811v153h1v-153zM964 811v153h1v-153zM969 811v153h1v-153zM977 811v153h1v-153zM980 811v153h1v-153zM985 811v153h1v-153zM990 811v153h1v-153zM993 811v153h1v-153zM998 811v153h1v-153zM1001 811v153h1v-153zM1006 811v153h1v-153zM1011 811v153h1v-153zM1014 811v153h1v-153zM1022 811v153h1v-153zM1032 811v153h1v-153zM1040 811v153h1v-153zM1644 811v153h1v-153zM1652 811v153h1v-153zM1720 811v153h1v-153zM321 964v153h1v-153zM468 964v153h1v-153zM720 964v153h1v-153zM812 964v153h1v-153zM935 964v153h1v-153zM948 964v153h1v-153zM959 964v153h1v-153zM964 964v153h1v-153zM969 964v153h1v-153zM972 964v153h1v-153zM977 964v153h1v-153zM980 964v153h1v-153zM985 964v153h1v-153zM990 964v153h1v-153zM993 964v153h1v-153zM998 964v153h1v-153zM1001 964v153h1v-153zM1006 964v153h1v-153zM1011 964v153h1v-153zM1014 964v153h1v-153zM1019 964v153h1v-153zM1022 964v153h1v-153zM1027 964v153h1v-153zM1040 964v153h1v-153zM1106 964v153h1v-153zM1124 964v153h1v-153zM1127 964v153h1v-153zM1140 964v153h1v-153zM1190 964v153h1v-153zM1200 964v153h1v-153zM1203 964v153h1v-153zM1216 964v153h1v-153zM1221 964v153h1v-153zM1224 964v153h1v-153zM1274 964v153h1v-153zM1287 964v153h1v-153zM1313 964v153h1v-153zM1510 964v153h1v-153zM1531 964v153h1v-153zM1547 964v153h1v-153zM1557 964v153h1v-153zM1573 964v153h1v-153zM1720 964v153h1v-153zM1825 964v153h1v-153zM1841 964v153h1v-153zM1896 964v153h1v-153zM1943 964v153h1v-153zM1964 964v153h1v-153zM1977 964v153h1v-153zM2056 964v153h1v-153zM2064 964v153h1v-153zM2069 964v153h1v-153zM2077 964v153h1v-153zM2090 964v153h1v-153zM2169 964v153h1v-153zM2229 964v153h1v-153zM2271 964v153h1v-153zM2358 964v153h1v-153z" fill="#8a8a8a"/>
<rect x="286" y="48" width="2096" height="1" fill="#000" fill-opacity="0.1736"/>
<rect x="286" y="1116" width="2096" height="1" fill="#000" fill-opacity="0.1736"/>
<rect x="286" y="199" width="2096" height="1" fill="#000" fill-opacity="0.1736"/>
<rect x="286" y="200" width="2096" height="1" fill="#000" fill-opacity="0.3171"/>
<rect x="286" y="352" width="2096" height="1" fill="#000" fill-opacity="0.1736"/>
<rect x="286" y="353" width="2096" height="1" fill="#000" fill-opacity="0.3171"/>
<rect x="286" y="505" width="2096" height="1" fill="#000" fill-opacity="0.1736"/>
<rect x="286" y="506" width="2096" height="1" fill="#000" fill-opacity="0.3171"/>
<rect x="286" y="658" width="2096" height="1" fill="#000" fill-opacity="0.1736"/>
<rect x="286" y="659" width="2096" height="1" fill="#000" fill-opacity="0.3171"/>
<rect x="286" y="810" width="2096" height="1" fill="#000" fill-opacity="0.1736"/>
<rect x="286" y="811" width="2096" height="1" fill="#000" fill-opacity="0.3171"/>
<rect x="286" y="963" width="2096" height="1" fill="#000" fill-opacity="0.1736"/>
<rect x="286" y="964" width="2096" height="1" fill="#000" fill-opacity="0.3171"/>
<rect x="608" y="1112" width="1" height="5" fill="#000" fill-opacity="0.694"/>
<rect x="608" y="1111" width="1" height="1" fill="#000" fill-opacity="0.389"/>
<rect x="608" y="48" width="1" height="5" fill="#000" fill-opacity="0.694"/>
<rect x="608" y="53" width="1" height="1" fill="#000" fill-opacity="0.389"/>
<rect x="931" y="1112" width="1" height="5" fill="#000" fill-opacity="0.694"/>
<rect x="931" y="1111" width="1" height="1" fill="#000" fill-opacity="0.389"/>
<rect x="931" y="48" width="1" height="5" fill="#000" fill-opacity="0.694"/>
<rect x="931" y="53" width="1" height="1" fill="#000" fill-opacity="0.389"/>
<rect x="1254" y="1112" width="1" height="5" fill="#000" fill-opacity="0.694"/>
<rect x="1254" y="1111" width="1" height="1" fill="#000" fill-opacity="0.389"/>
<rect x="1254" y="48" width="1" height="5" fill="#000" fill-opacity="0.694"/>
<rect x="1254" y="53" width="1" height="1" fill="#000" fill-opacity="0.389"/>
<rect x="1578" y="1112" width="1" height="5" fill="#000" fill-opacity="0.694"/>
<rect x="1578" y="1111" width="1" height="1" fill="#000" fill-opacity="0.389"/>
<rect x="1578" y="48" width="1" height="5" fill="#000" fill-opacity="0.694"/>
<rect x="1578" y="53" width="1" height="1" fill="#000" fill-opacity="0.389"/>
<rect x="1901" y="1112" width="1" height="5" fill="#000" fill-opacity="0.694"/>
<rect x="1901" y="1111" width="1" height="1" fill="#000" fill-opacity="0.389"/>
<rect x="1901" y="48" width="1" height="5" fill="#000" fill-opacity="0.694"/>
<rect x="1901" y="53" width="1" height="1" fill="#000" fill-opacity="0.389"/>
<rect x="2224" y="1112" width="1" height="5" fill="#000" fill-opacity="0.694"/>
<rect x="2224" y="1111" width="1" height="1" fill="#000" fill-opacity="0.389"/>
<rect x="2224" y="48" width="1" height="5" fill="#000" fill-opacity="0.694"/>
<rect x="2224" y="53" width="1" height="1" fill="#000" fill-opacity="0.389"/>
<rect x="286" y="124" width="5" height="1" fill="#000" fill-opacity="0.694"/>
<rect x="291" y="124" width="1" height="1" fill="#000" fill-opacity="0.389"/>
<rect x="2377" y="124" width="5" height="1" fill="#000" fill-opacity="0.694"/>
<rect x="2376" y="124" width="1" height="1" fill="#000" fill-opacity="0.389"/>
<rect x="286" y="277" width="5" height="1" fill="#000" fill-opacity="0.694"/>
<rect x="291" y="277" width="1" height="1" fill="#000" fill-opacity="0.389"/>
<rect x="2377" y="277" width="5" height="1" fill="#000" fill-opacity="0.694"/>
<rect x="2376" y="277" width="1" height="1" fill="#000" fill-opacity="0.389"/>
<rect x="286" y="429" width="5" height="1" fill="#000" fill-opacity="0.694"/>
<rect x="291" y="429" width="1" height="1" fill="#000" fill-opacity="0.389"/>
<rect x="2377" y="429" width="5" height="1" fill="#000" fill-opacity="0.694"/>
<rect x="2376" y="429" width="1" height="1" fill="#000" fill-opacity="0.389"/>
<rect x="286" y="582" width="5" height="1" fill="#000" fill-opacity="0.694"/>
<rect x="291" y="582" width="1" height="1" fill="#000" fill-opacity="0.389"/>
<rect x="2377" y="582" width="5" height="1" fill="#000" fill-opacity="0.694"/>
<rect x="2376" y="582" width="1" height="1" fill="#000" fill-opacity="0.389"/>
<rect x="286" y="735" width="5" height="1" fill="#000" fill-opacity="0.694"/>
<rect x="291" y="735" width="1" height="1" fill="#000" fill-opacity="0.389"/>
<rect x="2377" y="735" width="5" height="1" fill="#000" fill-opacity="0.694"/>
<rect x="2376" y="735" width="1" height="1" fill="#000" fill-opacity="0.389"/>
<rect x="286" y="888" width="5" height="1" fill="#000" fill-opacity="0.694"/>
<rect x="291" y="888" width="1" height="1" fill="#000" fill-opacity="0.389"/>
<rect x="2377" y="888" width="5" height="1" fill="#000" fill-opacity="0.694"/>
<rect x="2376" y="888" width="1" height="1" fill="#000" fill-opacity="0.389"/>
<rect x="286" y="1041" width="5" height="1" fill="#000" fill-opacity="0.694"/>
<rect x="291" y="1041" width="1" height="1" fill="#000" fill-opacity="0.389"/>
<rect x="2377" y="1041" width="5" height="1" fill="#000" fill-opacity="0.694"/>
<rect x="2376" y="1041" width="1" height="1" fill="#000" fill-opacity="0.389"/>
<path d="M285 46h2098v1h-2098zM285 1118h2098v1h-2098zM284 47v1071h1v-1071zM2383 47v1071h1v-1071zM286 48h2096v1h-2096zM286 1116h2096v1h-2096zM286 49v1067h1v-1067zM2381 49v1067h1v-1067z" fill="#000" fill-opacity="0.1945"/>
<path d="M285 47H2383V1118H285ZM286 48H2382V1117H286Z" fill="#000" fill-rule="evenodd"/>
<rect x="2227" y="57" width="146" height="65" fill="#fff"/>
<path d="M2227 56h146v1h-146zM2227 122h146v1h-146zM2226 57v65h1v-65zM2373 57v65h1v-65zM2228 58h144v1h-144zM2228 120h144v1h-144zM2228 59v61h1v-61zM2371 59v61h1v-61z" fill="#000" fill-opacity="0.1945"/>
<path d="M2227 57H2373V122H2227ZM2228 58H2372V121H2228Z" fill="#000" fill-rule="evenodd"/>
<rect x="2235" y="66" width="41" height="15" fill="#348956"/>
<path d="M2235 65h41v1h-41zM2235 81h41v1h-41zM2234 66v15h1v-15zM2276 66v15h1v-15zM2236 67h39v1h-39zM2236 79h39v1h-39zM2236 68v11h1v-11zM2274 68v11h1v-11z" fill="#000" fill-opacity="0.1945"/>
<path d="M2235 66H2276V81H2235ZM2236 67H2275V80H2236Z" fill="#000" fill-rule="evenodd"/>
<rect x="2235" y="95" width="41" height="15" fill="#ffffff"/>
<path d="M2235 94h41v1h-41zM2235 110h41v1h-41zM2234 95v15h1v-15zM2276 95v15h1v-15zM2236 96h39v1h-39zM2236 108h39v1h-39zM2236 97v11h1v-11zM2274 97v11h1v-11z" fill="#000" fill-opacity="0.1945"/>
<path d="M2235 95H2276V110H2235ZM2236 96H2275V109H2236Z" fill="#000" fill-rule="evenodd"/>
</g>
<g style="opacity:0.999">
<text transform="translate(929.464 39.000) scale(0.9872 1.0000)" font-size="28.84" stroke-width="0.90" font-weight="bold" letter-spacing="2.00">TCGA-PANGI:</text>
<text transform="translate(1149.123 39.000) scale(1.0591 1.0000)" font-size="28.84" stroke-width="0.90" font-weight="bold" letter-spacing="2.00">Data</text>
<text transform="translate(1234.605 39.000) scale(1.0401 1.0000)" font-size="28.84" stroke-width="0.90" font-weight="bold" letter-spacing="2.00">Type</text>
<text transform="translate(1320.684 39.000) scale(1.0501 1.0000)" font-size="28.84" stroke-width="0.90" font-weight="bold" letter-spacing="2.00">Breakdown</text>
<text transform="translate(1512.351 39.000) scale(1.0291 1.0000)" font-size="28.84" stroke-width="0.90" font-weight="bold" letter-spacing="2.00">by</text>
<text transform="translate(1561.767 39.000) scale(1.0435 1.0000)" font-size="28.84" stroke-width="0.90" font-weight="bold" letter-spacing="2.00">Participant</text>
<text transform="translate(1244.742 1175.000) scale(1.0399 1.0000)" font-size="28.84" stroke-width="0.90" font-weight="bold" letter-spacing="2.00">Participant</text>
<text transform="translate(38.000 836.675) rotate(-90) scale(1.0647 1.0000)" font-size="28.84" stroke-width="0.90" font-weight="bold" letter-spacing="2.00">Data</text>
<text transform="translate(38.000 750.750) rotate(-90) scale(1.0392 1.0000)" font-size="28.84" stroke-width="0.90" font-weight="bold" letter-spacing="2.00">Type</text>
<text transform="translate(38.000 652.897) rotate(-90) scale(1.0340 1.0000)" font-size="28.84" stroke-width="0.90" font-weight="bold" letter-spacing="2.00">Total</text>
<text transform="translate(38.000 563.152) rotate(-90) scale(1.0492 1.0000)" font-size="28.84" stroke-width="0.90" font-weight="bold" letter-spacing="2.00">Sample</text>
<text transform="translate(38.000 433.531) rotate(-90) scale(1.0189 1.0000)" font-size="28.84" stroke-width="0.90" font-weight="bold" letter-spacing="2.00">Count</text>
<text transform="translate(35.590 664.684) rotate(-90) scale(0.9692 0.8921)" font-size="28.84" stroke-width="0.90" font-weight="bold">(</text>
<text transform="translate(35.597 335.888) rotate(-90) scale(0.9118 0.8929)" font-size="28.84" stroke-width="0.90" font-weight="bold">)</text>
<text transform="translate(145.615 131.000) scale(0.9228 1.0000)" font-size="25.00" stroke-width="0.45">BCR</text>
<text transform="translate(212.662 131.000) scale(1.0701 1.0000)" font-size="25.00" stroke-width="0.45">1298</text>
<text transform="translate(202.498 129.377) scale(0.8430 0.9010)" font-size="25.00" stroke-width="0.45">(</text>
<text transform="translate(274.280 129.374) scale(0.8388 0.9015)" font-size="25.00" stroke-width="0.45">)</text>
<text transform="translate(52.621 284.000) scale(1.1064 1.0000)" font-size="25.00" stroke-width="0.45">Methylation</text>
<text transform="translate(212.718 284.000) scale(1.0579 1.0000)" font-size="25.00" stroke-width="0.45">1287</text>
<text transform="translate(202.498 282.377) scale(0.8430 0.9010)" font-size="25.00" stroke-width="0.45">(</text>
<text transform="translate(274.280 282.374) scale(0.8388 0.9015)" font-size="25.00" stroke-width="0.45">)</text>
<text transform="translate(107.730 436.000) scale(1.0645 1.0000)" font-size="25.00" stroke-width="0.45">Clinical</text>
<text transform="translate(212.718 436.000) scale(1.0579 1.0000)" font-size="25.00" stroke-width="0.45">1257</text>
<text transform="translate(202.498 434.377) scale(0.8430 0.9010)" font-size="25.00" stroke-width="0.45">(</text>
<text transform="translate(274.280 434.374) scale(0.8388 0.9015)" font-size="25.00" stroke-width="0.45">)</text>
<text transform="translate(159.916 589.000) scale(0.9480 1.0000)" font-size="25.00" stroke-width="0.45">CN</text>
<text transform="translate(212.716 589.000) scale(1.0599 1.0000)" font-size="25.00" stroke-width="0.45">1252</text>
<text transform="translate(202.498 587.377) scale(0.8430 0.9010)" font-size="25.00" stroke-width="0.45">(</text>
<text transform="translate(274.280 587.374) scale(0.8388 0.9015)" font-size="25.00" stroke-width="0.45">)</text>
<text transform="translate(147.989 742.000) scale(1.0437 1.0000)" font-size="25.00" stroke-width="0.45">miR</text>
<text transform="translate(212.710 742.000) scale(1.0572 1.0000)" font-size="25.00" stroke-width="0.45">1225</text>
<text transform="translate(202.498 740.377) scale(0.8430 0.9010)" font-size="25.00" stroke-width="0.45">(</text>
<text transform="translate(274.280 740.374) scale(0.8388 0.9015)" font-size="25.00" stroke-width="0.45">)</text>
<text transform="translate(142.816 895.000) scale(0.9471 1.0000)" font-size="25.00" stroke-width="0.45">MAF</text>
<text transform="translate(212.710 895.000) scale(1.0572 1.0000)" font-size="25.00" stroke-width="0.45">1215</text>
<text transform="translate(202.498 893.377) scale(0.8430 0.9010)" font-size="25.00" stroke-width="0.45">(</text>
<text transform="translate(274.280 893.374) scale(0.8388 0.9015)" font-size="25.00" stroke-width="0.45">)</text>
<text transform="translate(119.921 1048.000) scale(0.9996 1.0000)" font-size="25.00" stroke-width="0.45">mRNA</text>
<text transform="translate(213.053 1048.000) scale(1.0879 1.0000)" font-size="25.00" stroke-width="0.45">1167</text>
<text transform="translate(202.498 1046.377) scale(0.8430 0.9010)" font-size="25.00" stroke-width="0.45">(</text>
<text transform="translate(274.280 1046.374) scale(0.8388 0.9015)" font-size="25.00" stroke-width="0.45">)</text>
<text transform="translate(278.512 1142.000) scale(0.9765 1.0000)" font-size="25.00" stroke-width="0.45">0</text>
<text transform="translate(586.219 1142.000) scale(1.0575 1.0000)" font-size="25.00" stroke-width="0.45">200</text>
<text transform="translate(910.110 1142.000) scale(1.0361 1.0000)" font-size="25.00" stroke-width="0.45">400</text>
<text transform="translate(1232.211 1142.000) scale(1.0577 1.0000)" font-size="25.00" stroke-width="0.45">600</text>
<text transform="translate(1556.402 1142.000) scale(1.0530 1.0000)" font-size="25.00" stroke-width="0.45">800</text>
<text transform="translate(1871.210 1142.000) scale(1.0704 1.0000)" font-size="25.00" stroke-width="0.45">1000</text>
<text transform="translate(2194.210 1142.000) scale(1.0704 1.0000)" font-size="25.00" stroke-width="0.45">1200</text>
<text transform="translate(2288.765 80.000) scale(1.1158 1.0000)" font-size="19.45" stroke-width="0.35">Present</text>
<text transform="translate(2291.494 109.000) scale(1.1181 1.0000)" font-size="19.45" stroke-width="0.35">Absent</text>
</g>
</svg></body></html>
